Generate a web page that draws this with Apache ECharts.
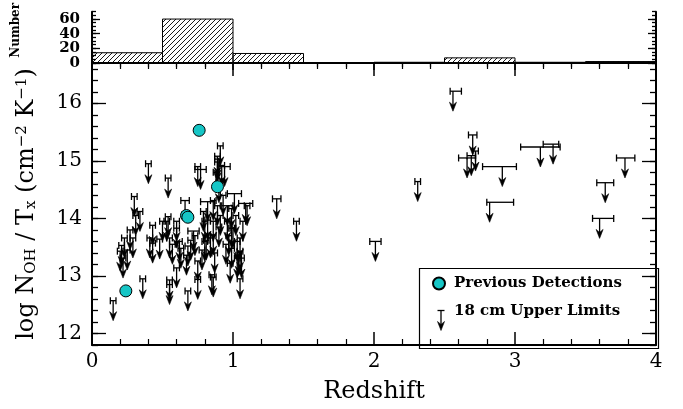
<!DOCTYPE html>
<html>
<head>
<meta charset="utf-8">
<script src="https://cdn.jsdelivr.net/npm/echarts@6/dist/echarts.min.js"></script>
<style>
  html, body { margin: 0; padding: 0; background: #fff; }
  #chart { width: 683px; height: 409px; }
</style>
</head>
<body>
<div id="chart"></div>
<script>
// Redshift histogram of the surveyed sources (bin width 0.5)
const binStarts = [0, 0.5, 1.0, 1.5, 2.0, 2.5, 3.0, 3.5];
const binCounts = [14, 60, 13, 0, 1, 7, 1, 2];
const BIN_WIDTH = 0.5;

// Previously detected OH absorbers: [redshift, log N_OH/T_x]
const detections = [
  [0.24, 12.74], [0.67, 14.05], [0.68, 14.02], [0.76, 15.53], [0.89, 14.55]
];

// 18 cm upper limits: [redshift, log N_OH/T_x, z error below, z error above]
const upperLimits = [
  [0.15, 12.57, 0.02, 0.02], [0.20, 13.43, 0.02, 0.02], [0.21, 13.53, 0.02, 0.02],
  [0.22, 13.31, 0.02, 0.02], [0.23, 13.66, 0.02, 0.02], [0.27, 13.80, 0.02, 0.02],
  [0.29, 13.66, 0.02, 0.02], [0.30, 14.38, 0.02, 0.02], [0.31, 14.05, 0.02, 0.02],
  [0.34, 14.12, 0.02, 0.02], [0.36, 12.95, 0.02, 0.02], [0.40, 14.95, 0.02, 0.02],
  [0.41, 13.66, 0.02, 0.02], [0.43, 13.57, 0.02, 0.02], [0.43, 13.88, 0.02, 0.02],
  [0.48, 13.64, 0.02, 0.02], [0.25, 13.45, 0.02, 0.02],
  [0.50, 13.95, 0.02, 0.02], [0.53, 13.95, 0.02, 0.02], [0.54, 14.70, 0.02, 0.02],
  [0.54, 14.03, 0.02, 0.02], [0.55, 13.66, 0.02, 0.02], [0.57, 13.55, 0.02, 0.02],
  [0.55, 12.85, 0.02, 0.02], [0.55, 12.93, 0.02, 0.02],
  [0.60, 13.95, 0.02, 0.02], [0.60, 13.83, 0.02, 0.02], [0.60, 13.14, 0.02, 0.02],
  [0.62, 13.60, 0.02, 0.02], [0.63, 13.48, 0.02, 0.02], [0.66, 14.31, 0.03, 0.03],
  [0.67, 13.36, 0.02, 0.02], [0.68, 13.52, 0.02, 0.02], [0.68, 12.74, 0.02, 0.02],
  [0.70, 13.62, 0.02, 0.02], [0.72, 13.78, 0.04, 0.04], [0.73, 13.70, 0.02, 0.02],
  [0.75, 14.90, 0.02, 0.02], [0.75, 13.26, 0.02, 0.02], [0.75, 12.94, 0.02, 0.02],
  [0.77, 14.85, 0.04, 0.04], [0.78, 13.45, 0.02, 0.02], [0.79, 14.12, 0.02, 0.02],
  [0.80, 13.95, 0.02, 0.02], [0.80, 13.60, 0.02, 0.02], [0.81, 13.62, 0.02, 0.02],
  [0.82, 14.29, 0.05, 0.05], [0.82, 13.97, 0.02, 0.02], [0.84, 13.66, 0.02, 0.02],
  [0.85, 13.02, 0.02, 0.02], [0.86, 13.71, 0.02, 0.02], [0.86, 12.98, 0.02, 0.02],
  [0.86, 14.31, 0.02, 0.02], [0.86, 13.95, 0.02, 0.02], [0.87, 13.40, 0.02, 0.02],
  [0.88, 14.80, 0.02, 0.02], [0.89, 15.03, 0.02, 0.02], [0.89, 15.08, 0.02, 0.02],
  [0.89, 14.98, 0.02, 0.02], [0.89, 14.22, 0.02, 0.02],
  [0.90, 14.62, 0.02, 0.02], [0.90, 13.85, 0.02, 0.02], [0.91, 15.26, 0.02, 0.02],
  [0.91, 14.05, 0.02, 0.02], [0.92, 14.92, 0.02, 0.02], [0.93, 14.40, 0.02, 0.02],
  [0.94, 14.90, 0.04, 0.04], [0.95, 13.55, 0.02, 0.02], [0.96, 14.22, 0.04, 0.04],
  [0.96, 13.95, 0.02, 0.02], [0.97, 13.70, 0.02, 0.02], [0.98, 13.22, 0.02, 0.02],
  [0.99, 14.17, 0.02, 0.02], [0.99, 13.48, 0.02, 0.02], [0.99, 13.83, 0.02, 0.02],
  [1.01, 14.43, 0.05, 0.05], [1.00, 13.83, 0.02, 0.02], [1.02, 14.05, 0.02, 0.02],
  [1.03, 13.60, 0.02, 0.02], [1.03, 13.31, 0.02, 0.02], [1.04, 13.36, 0.02, 0.02],
  [1.05, 13.66, 0.02, 0.02], [1.05, 13.43, 0.02, 0.02],
  [1.05, 12.95, 0.02, 0.02], [1.06, 13.31, 0.02, 0.02], [1.07, 13.95, 0.02, 0.02],
  [1.09, 14.26, 0.05, 0.05], [1.10, 14.22, 0.02, 0.02],
  [1.31, 14.34, 0.03, 0.03], [1.45, 13.95, 0.02, 0.02],
  [2.01, 13.60, 0.04, 0.04], [2.31, 14.64, 0.02, 0.02],
  [2.56, 16.21, 0.02, 0.06], [2.70, 15.45, 0.03, 0.03], [2.66, 15.05, 0.06, 0.06],
  [2.72, 15.17, 0.02, 0.02], [2.69, 15.09, 0.03, 0.03], [2.91, 14.90, 0.14, 0.10],
  [2.82, 14.28, 0.02, 0.17], [3.18, 15.24, 0.14, 0.14], [3.27, 15.29, 0.07, 0.04],
  [3.64, 14.62, 0.06, 0.06], [3.78, 15.05, 0.06, 0.07], [3.60, 14.00, 0.05, 0.10]
];

// Axis tick positions and labels
const xMajorTicks = [0, 1, 2, 3, 4];
const yMainLabels = [12, 13, 14, 15, 16];
const histTicks = [0, 20, 40, 60];
const histLabelsA = [0, 40];
const histLabelsB = [20, 60];
const yMainMinor = [];
for (let v = 11.8; v <= 16.7001; v += 0.2) yMainMinor.push(+v.toFixed(1));
const histMinor = [];
for (let v = 0; v <= 70; v += 5) histMinor.push(v);

const FONT = 'DejaVu Serif';
const INK = '#000';

// Diagonal hatch used to fill the histogram bins
const hatch = document.createElement('canvas');
hatch.width = 5; hatch.height = 5;
(function () {
  const c = hatch.getContext('2d');
  c.strokeStyle = '#000';
  c.lineWidth = 0.9;
  c.beginPath();
  c.moveTo(-1, 6); c.lineTo(6, -1);
  c.moveTo(-1, 1); c.lineTo(1, -1);
  c.moveTo(4, 6); c.lineTo(6, 4);
  c.stroke();
})();

function renderBin(params, api) {
  const x0 = api.value(0), n = api.value(1);
  const a = api.coord([x0, n]);
  const b = api.coord([x0 + BIN_WIDTH, 0]);
  return {
    type: 'rect',
    shape: { x: a[0], y: a[1], width: b[0] - a[0], height: b[1] - a[1] },
    style: { fill: { image: hatch, repeat: 'repeat' }, stroke: INK, lineWidth: 1 }
  };
}

// Upper-limit glyph: error bar (optionally capped), stem and arrowhead
const CAP = 3.5, STEM = 20, HEAD_L = 9, HEAD_W = 3.5;
function arrowChildren(x, y, xl, xr, ls, caps) {
  const out = [
    { type: 'line', shape: { x1: xl, y1: y, x2: xr, y2: y }, style: ls },
    { type: 'line', shape: { x1: x, y1: y, x2: x, y2: y + STEM - 4 }, style: ls },
    {
      type: 'polygon',
      shape: { points: [
        [x, y + STEM],
        [x - HEAD_W, y + STEM - HEAD_L],
        [x, y + STEM - HEAD_L + 3],
        [x + HEAD_W, y + STEM - HEAD_L]
      ] },
      style: { fill: INK, stroke: INK, lineWidth: 0.6 }
    }
  ];
  if (caps) {
    out.push(
      { type: 'line', shape: { x1: xl, y1: y - CAP, x2: xl, y2: y + CAP }, style: ls },
      { type: 'line', shape: { x1: xr, y1: y - CAP, x2: xr, y2: y + CAP }, style: ls }
    );
  }
  return out;
}

function renderLimit(params, api) {
  const z = api.value(0), v = api.value(1), lo = api.value(2), hi = api.value(3);
  const p = api.coord([z, v]);
  const l = api.coord([z - lo, v]);
  const r = api.coord([z + hi, v]);
  const ls = { stroke: INK, lineWidth: 1.3, fill: null };
  return { type: 'group', children: arrowChildren(p[0], p[1], l[0], r[0], ls, true) };
}

const frameLine = { show: true, lineStyle: { color: INK, width: 2 } };

function xAxisDef(gridIndex, position, major, minor, labels) {
  return {
    type: 'value', gridIndex, position, min: 0, max: 4, interval: 1,
    axisLine: frameLine,
    axisTick: { show: true, inside: true, length: major, lineStyle: { color: INK, width: 1.5 } },
    minorTick: { show: true, splitNumber: 5, length: minor, lineStyle: { color: INK, width: 1.2 } },
    splitLine: { show: false },
    axisLabel: labels
      ? { show: true, margin: 7, color: INK, fontFamily: FONT, fontSize: 20,
          customValues: xMajorTicks }
      : { show: false }
  };
}

function yAxisDef(gridIndex, position, min, max, ticks, len, showLine, extra) {
  return Object.assign({
    type: 'value', gridIndex, position, min, max,
    axisLine: showLine ? frameLine : { show: false },
    axisTick: { show: true, inside: true, length: len, customValues: ticks,
                lineStyle: { color: INK, width: 1.3 } },
    splitLine: { show: false },
    axisLabel: { show: false }
  }, extra || {});
}

function histLabel(values) {
  return { show: true, customValues: values, margin: 12, color: INK,
           fontFamily: FONT, fontSize: 15, fontWeight: 'bold', lineHeight: 14,
           hideOverlap: false, showMinLabel: true, showMaxLabel: true };
}

const chart = echarts.init(document.getElementById('chart'), null, { renderer: 'canvas' });

chart.setOption({
  animation: false,
  backgroundColor: '#fff',
  grid: [
    { left: 92, right: 27, top: 7, height: 56 },
    { left: 92, right: 27, top: 63, bottom: 63 }
  ],
  xAxis: [
    { type: 'value', gridIndex: 0, position: 'bottom', min: 0, max: 4,
      axisLine: frameLine, axisTick: { show: false }, axisLabel: { show: false },
      splitLine: { show: false } },
    xAxisDef(0, 'top', 7, 4, false),
    Object.assign(xAxisDef(1, 'bottom', 13, 6, true), {
      name: 'Redshift', nameLocation: 'middle', nameGap: 35,
      nameTextStyle: { color: INK, fontFamily: FONT, fontSize: 24 }
    }),
    xAxisDef(1, 'top', 13, 6, false)
  ],
  yAxis: [
    yAxisDef(0, 'left', 0, 70, histTicks, 8, true, {
      axisLabel: histLabel(histLabelsA),
      name: 'Number', nameLocation: 'middle', nameRotate: 90, nameGap: 70,
      nameTextStyle: { color: INK, fontFamily: FONT, fontSize: 12, fontWeight: 'bold',
                       padding: [0, 0, 0, 14] }
    }),
    yAxisDef(0, 'left', 0, 70, histMinor, 4, false, { axisLabel: histLabel(histLabelsB) }),
    yAxisDef(0, 'right', 0, 70, histTicks, 8, true),
    yAxisDef(0, 'right', 0, 70, histMinor, 4, false),
    yAxisDef(1, 'left', 11.8, 16.7, yMainLabels, 14, true, {
      axisLabel: { show: true, customValues: yMainLabels, margin: 10, color: INK,
                   fontFamily: FONT, fontSize: 20 },
      name: '{t|log N}{s|OH}{t| / T}{s|x}{t| (cm}{p|\u22122}{t| K}{p|\u22121}{t|)}',
      nameLocation: 'middle', nameRotate: 90, nameGap: 53,
      nameTextStyle: {
        color: INK, fontFamily: FONT, fontSize: 24,
        rich: {
          t: { fontFamily: FONT, fontSize: 24, color: INK },
          s: { fontFamily: FONT, fontSize: 15, color: INK, verticalAlign: 'bottom' },
          p: { fontFamily: FONT, fontSize: 15, color: INK, verticalAlign: 'top' }
        }
      }
    }),
    yAxisDef(1, 'left', 11.8, 16.7, yMainMinor, 6, false),
    yAxisDef(1, 'right', 11.8, 16.7, yMainLabels, 14, true),
    yAxisDef(1, 'right', 11.8, 16.7, yMainMinor, 6, false)
  ],
  legend: {
    orient: 'vertical',
    left: 432, top: 276,
    itemWidth: 12, itemHeight: 12, itemGap: 13,
    padding: 0,
    selectedMode: false,
    textStyle: { color: INK, fontFamily: FONT, fontSize: 15, fontWeight: 'bold',
                 padding: [0, 0, 0, 4] },
    data: [
      { name: 'Previous Detections', icon: 'circle' },
      { name: '18 cm Upper Limits', icon: 'rect',
        itemStyle: { color: 'rgba(0,0,0,0)', borderWidth: 0 } }
    ]
  },
  graphic: [
    { type: 'rect', left: 417, top: 266, shape: { width: 239, height: 80 },
      style: { fill: null, stroke: INK, lineWidth: 1.2 }, z: 5 },
    // legend key for the upper-limit glyph
    { type: 'group', left: 435, top: 308, z: 6,
      children: arrowChildren(3.5, 0, 0, 7, { stroke: INK, lineWidth: 1.3, fill: null }, false) }
  ],
  series: [
    {
      type: 'custom', name: 'hist', xAxisIndex: 0, yAxisIndex: 0,
      renderItem: renderBin,
      data: binStarts.map((s, i) => [s, binCounts[i]]),
      silent: true
    },
    {
      type: 'custom', name: '18 cm Upper Limits', xAxisIndex: 2, yAxisIndex: 4,
      renderItem: renderLimit,
      itemStyle: { color: INK },
      data: upperLimits,
      clip: true, silent: true
    },
    {
      type: 'scatter', name: 'Previous Detections', xAxisIndex: 2, yAxisIndex: 4,
      symbol: 'circle', symbolSize: 12,
      itemStyle: { color: '#16c6c6', borderColor: INK, borderWidth: 1, opacity: 1 },
      data: detections, z: 4, silent: true
    }
  ]
});
</script>
</body>
</html>
